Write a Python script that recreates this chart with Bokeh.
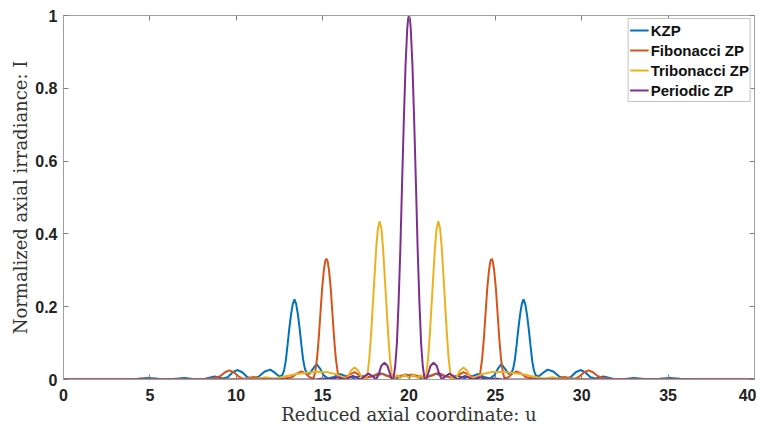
from bokeh.plotting import figure
from bokeh.models import (Range1d, LinearAxis, FixedTicker, CustomJSTickFormatter,
                          Legend, LegendItem)
from bokeh.embed import file_html
from bokeh.resources import INLINE

# ---------------- data ----------------
x_ticks = [0, 5, 10, 15, 20, 25, 30, 35, 40]
y_ticks = [0, 0.2, 0.4, 0.6, 0.8, 1]

# KZP
kzp_u_left = [0, 3.5, 4.3, 4.9, 5.5, 6.2, 7.0, 7.6, 8.2, 8.75,
              9.2, 9.5, 9.8, 10.08, 10.35, 10.65, 10.95, 11.3, 11.65, 11.97,
              12.25, 12.5, 12.67, 12.77, 12.87, 12.97, 13.07, 13.17, 13.27, 13.37,
              13.47, 13.57, 13.67, 13.77, 13.87, 13.97, 14.07, 14.25, 14.45, 14.65,
              14.85, 15.05, 15.3, 15.6, 16.0, 16.4, 16.8, 17.2, 17.6, 18.0,
              18.45, 18.9, 19.3, 19.7, 20.0]
kzp_i_left = [0, 0, 0.002, 0.004, 0.002, 0.001, 0.004, 0.001, 0.002, 0.008,
              0.003, 0.006, 0.02, 0.026, 0.02, 0.006, 0.002, 0.008, 0.022, 0.027,
              0.018, 0.008, 0.012, 0.025, 0.052, 0.095, 0.14, 0.178, 0.207, 0.22,
              0.207, 0.178, 0.14, 0.095, 0.055, 0.03, 0.018, 0.016, 0.03, 0.042,
              0.03, 0.012, 0.003, 0.006, 0.015, 0.008, 0.004, 0.01, 0.006, 0.01,
              0.016, 0.008, 0.004, 0.01, 0.012]
kzp_u_right = [20.3, 20.7, 21.1, 21.55, 22.0, 22.4, 22.8, 23.2, 23.6, 24.0,
               24.4, 24.7, 24.95, 25.15, 25.35, 25.55, 25.75, 25.93, 26.03, 26.13,
               26.23, 26.33, 26.43, 26.53, 26.63, 26.73, 26.83, 26.93, 27.03, 27.13,
               27.23, 27.33, 27.5, 27.75, 28.03, 28.35, 28.7, 29.05, 29.35, 29.65,
               29.92, 30.2, 30.5, 30.8, 31.25, 31.8, 32.4, 33.0, 33.8, 34.5,
               35.1, 35.7, 36.5, 40]
kzp_i_right = [0.01, 0.004, 0.008, 0.016, 0.01, 0.006, 0.01, 0.004, 0.008, 0.015,
               0.006, 0.003, 0.012, 0.03, 0.042, 0.03, 0.016, 0.018, 0.03, 0.055,
               0.095, 0.14, 0.178, 0.207, 0.22, 0.207, 0.178, 0.14, 0.095, 0.052,
               0.025, 0.012, 0.008, 0.018, 0.027, 0.022, 0.008, 0.002, 0.006, 0.02,
               0.026, 0.02, 0.006, 0.003, 0.008, 0.002, 0.001, 0.004, 0.001, 0.002,
               0.004, 0.002, 0, 0]

# Fibonacci ZP
fib_u_left = [0, 7.5, 8.4, 8.8, 9.1, 9.35, 9.6, 9.85, 10.15, 10.4,
              10.7, 11.0, 11.3, 11.7, 12.2, 12.7, 13.2, 13.5, 13.78, 14.0,
              14.25, 14.47, 14.57, 14.67, 14.77, 14.87, 14.97, 15.07, 15.15, 15.22,
              15.29, 15.37, 15.47, 15.57, 15.67, 15.77, 15.87, 15.97, 16.2, 16.5,
              16.85, 17.2, 17.5, 17.9, 18.3, 18.7, 19.1, 19.5, 19.8, 20.0]
fib_i_left = [0, 0, 0.002, 0.004, 0.01, 0.02, 0.025, 0.02, 0.008, 0.002,
              0.004, 0.007, 0.004, 0.001, 0.002, 0.002, 0.006, 0.016, 0.022, 0.017,
              0.006, 0.003, 0.02, 0.055, 0.11, 0.18, 0.25, 0.30, 0.325, 0.332,
              0.325, 0.30, 0.25, 0.18, 0.11, 0.055, 0.02, 0.003, 0.004, 0.012,
              0.02, 0.01, 0.004, 0.01, 0.018, 0.01, 0.004, 0.01, 0.014, 0.012]
fib_u_right = [20.2, 20.5, 20.9, 21.3, 21.7, 22.1, 22.5, 22.8, 23.15, 23.5,
               23.8, 24.03, 24.13, 24.23, 24.33, 24.43, 24.53, 24.63, 24.71, 24.78,
               24.85, 24.93, 25.03, 25.13, 25.23, 25.33, 25.43, 25.53, 25.75, 26.0,
               26.22, 26.5, 26.8, 27.3, 27.8, 28.3, 28.7, 29.0, 29.3, 29.6,
               29.85, 30.15, 30.4, 30.65, 30.9, 31.2, 31.6, 32.5, 40]
fib_i_right = [0.014, 0.01, 0.004, 0.01, 0.018, 0.01, 0.004, 0.01, 0.02, 0.012,
               0.004, 0.003, 0.02, 0.055, 0.11, 0.18, 0.25, 0.30, 0.325, 0.332,
               0.325, 0.30, 0.25, 0.18, 0.11, 0.055, 0.02, 0.003, 0.006, 0.017,
               0.022, 0.016, 0.006, 0.002, 0.002, 0.001, 0.004, 0.007, 0.004, 0.002,
               0.008, 0.02, 0.025, 0.02, 0.01, 0.004, 0.002, 0, 0]

# Tribonacci ZP
tri_u_left = [0, 9.0, 10.5, 11.2, 11.7, 12.2, 12.8, 13.5, 14.2, 14.8,
              15.3, 15.8, 16.2, 16.45, 16.65, 16.85, 17.05, 17.3, 17.5, 17.6,
              17.7, 17.8, 17.9, 18.0, 18.1, 18.2, 18.3, 18.4, 18.5, 18.6,
              18.7, 18.8, 18.9, 19.0, 19.1, 19.3, 19.5, 19.75, 20.0]
tri_i_left = [0, 0, 0.002, 0.002, 0.006, 0.002, 0.008, 0.015, 0.019, 0.021,
              0.02, 0.014, 0.005, 0.005, 0.025, 0.033, 0.025, 0.003, 0.0, 0.015,
              0.055, 0.12, 0.2, 0.28, 0.36, 0.415, 0.435, 0.415, 0.36, 0.28,
              0.2, 0.12, 0.055, 0.015, 0.0, 0.012, 0.004, 0.013, 0.004]
tri_u_right = [20.25, 20.5, 20.7, 20.9, 21.0, 21.1, 21.2, 21.3, 21.4, 21.5,
               21.6, 21.7, 21.8, 21.9, 22.0, 22.1, 22.2, 22.3, 22.4, 22.5,
               22.7, 22.95, 23.15, 23.35, 23.55, 23.8, 24.2, 24.7, 25.2, 25.8,
               26.5, 27.2, 27.8, 28.3, 28.8, 29.5, 31.0, 40]
tri_i_right = [0.013, 0.004, 0.012, 0.0, 0.015, 0.055, 0.12, 0.2, 0.28, 0.36,
               0.415, 0.435, 0.415, 0.36, 0.28, 0.2, 0.12, 0.055, 0.015, 0.0,
               0.003, 0.025, 0.033, 0.025, 0.005, 0.005, 0.014, 0.02, 0.021, 0.019,
               0.015, 0.008, 0.002, 0.006, 0.002, 0.002, 0, 0]

# Periodic ZP
per_u_left = [0, 12.0, 14.6, 15.0, 15.4, 15.9, 16.3, 16.75, 17.2, 17.45,
              17.65, 17.85, 18.1, 18.25, 18.4, 18.58, 18.75, 18.9, 19.0, 19.1,
              19.2, 19.3, 19.4, 19.5, 19.6, 19.7, 19.8, 19.9, 19.95, 20.0]
per_i_left = [0, 0, 0, 0.003, 0, 0.006, 0, 0.01, 0, 0.01,
              0.016, 0.01, 0, 0.015, 0.038, 0.046, 0.038, 0.015, 0, 0.003,
              0.035, 0.1, 0.215, 0.36, 0.54, 0.71, 0.863, 0.965, 0.991, 1.0]
per_u_right = [20.05, 20.1, 20.2, 20.3, 20.4, 20.5, 20.6, 20.7, 20.8, 20.9,
               21.0, 21.1, 21.25, 21.42, 21.6, 21.75, 21.9, 22.15, 22.35, 22.55,
               22.8, 23.25, 23.7, 24.1, 24.6, 25.0, 25.4, 28.0, 40]
per_i_right = [0.991, 0.965, 0.863, 0.71, 0.54, 0.36, 0.215, 0.1, 0.035, 0.003,
               0, 0.015, 0.038, 0.046, 0.038, 0.015, 0, 0.01, 0.016, 0.01,
               0, 0.01, 0, 0.006, 0, 0.003, 0, 0, 0]

series = [
    ("KZP", kzp_u_left + kzp_u_right, kzp_i_left + kzp_i_right, "#0072BD"),
    ("Fibonacci ZP", fib_u_left + fib_u_right, fib_i_left + fib_i_right, "#D95319"),
    ("Tribonacci ZP", tri_u_left + tri_u_right, tri_i_left + tri_i_right, "#EDB120"),
    ("Periodic ZP", per_u_left + per_u_right, per_i_left + per_i_right, "#7E2F8E"),
]

# ---------------- figure ----------------
AXIS_COL = "#a0a0a0"
TICK_FONT = "Liberation Sans"
LABEL_FONT = "DejaVu Serif"

p = figure(frame_width=691, frame_height=364, output_backend="svg",
           toolbar_location=None,
           x_range=Range1d(0, 40), y_range=Range1d(0, 1),
           min_border_left=63, min_border_right=2, min_border_top=15,
           min_border_bottom=40)
p.xgrid.visible = False
p.ygrid.visible = False
p.outline_line_color = None
p.background_fill_color = "white"
p.border_fill_color = "white"

fmt = CustomJSTickFormatter(code="return tick.toString();")

for ax, ticks in ((p.xaxis[0], x_ticks), (p.yaxis[0], y_ticks)):
    ax.ticker = FixedTicker(ticks=ticks)
    ax.formatter = fmt
    ax.major_tick_in = 5
    ax.major_tick_out = 0
    ax.minor_tick_line_color = None
    ax.axis_line_color = AXIS_COL
    ax.major_tick_line_color = "#808080"
    ax.major_label_text_font = TICK_FONT
    ax.major_label_text_font_style = "bold"
    ax.major_label_text_font_size = "16px"
    ax.major_label_text_color = "#222222"
    ax.axis_label_text_font = LABEL_FONT
    ax.axis_label_text_font_style = "normal"
    ax.axis_label_text_font_size = "18px"
    ax.axis_label_text_color = "#333333"

p.xaxis[0].axis_label = "Reduced axial coordinate: u"
p.yaxis[0].axis_label = "Normalized axial irradiance: I"
p.xaxis[0].major_label_standoff = 9
p.yaxis[0].major_label_standoff = 6
p.xaxis[0].axis_label_standoff = 0
p.yaxis[0].axis_label_standoff = 1

for loc, ticks in (("above", x_ticks), ("right", y_ticks)):
    ax = LinearAxis(ticker=FixedTicker(ticks=ticks), major_label_text_font_size="1px",
                    major_label_text_color=None, major_label_standoff=0,
                    major_tick_in=5, major_tick_out=0,
                    minor_tick_line_color=None, axis_line_color=AXIS_COL,
                    major_tick_line_color="#808080")
    p.add_layout(ax, loc)

items = []
for name, u, i, col in series:
    r = p.line(u, i, line_color=col, line_width=2)
    items.append(LegendItem(label=name, renderers=[r]))

legend = Legend(items=items, location="top_right",
                border_line_color="#888888", border_line_width=1,
                background_fill_color="white", background_fill_alpha=1,
                label_text_font=TICK_FONT, label_text_font_style="bold",
                label_text_font_size="15px", label_text_color="#111111",
                glyph_width=19, glyph_height=20, label_height=20,
                label_standoff=2, spacing=0, padding=1, margin=3)
p.add_layout(legend)

open("out.html", "w").write(file_html(p, INLINE))
